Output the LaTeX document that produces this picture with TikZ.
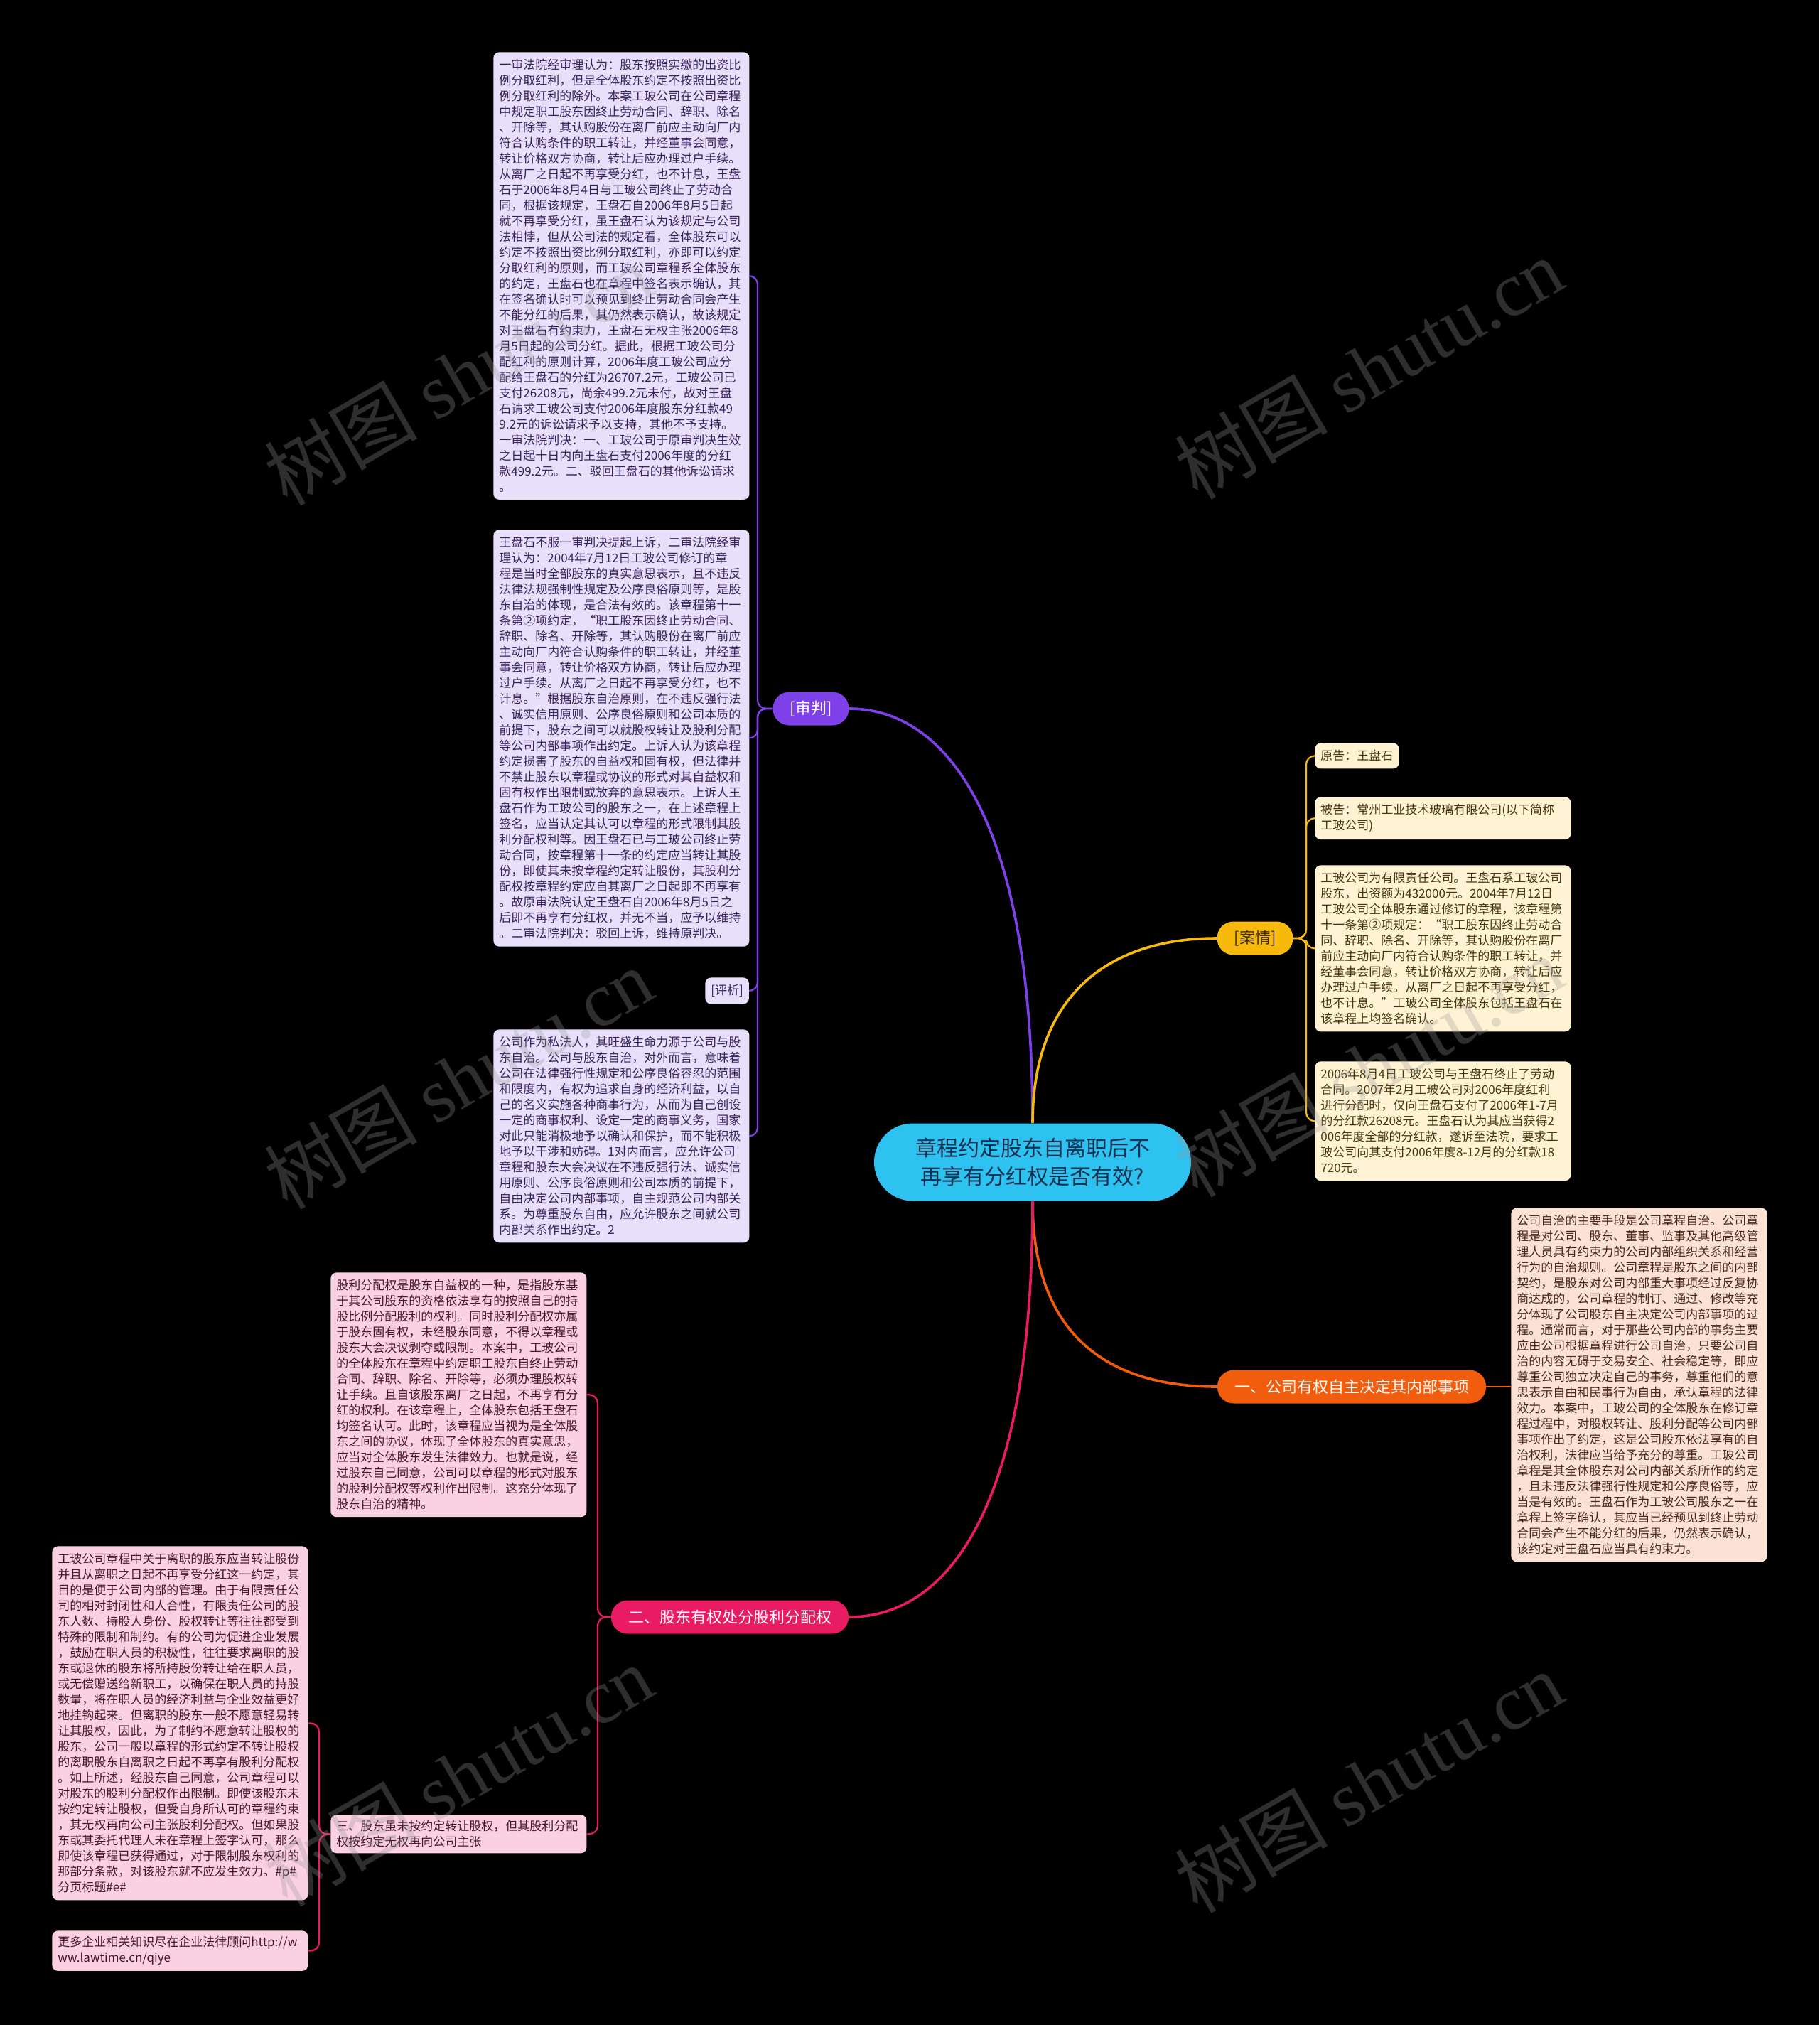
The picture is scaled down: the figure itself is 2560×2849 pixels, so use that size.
\documentclass[tikz,border=0pt]{standalone}
\usepackage{fontspec}
\setmainfont{Noto Sans CJK SC}
\newfontfamily\wmserif{Liberation Serif}
\definecolor{lavfill}{HTML}{E8DFFA}
\definecolor{lavtext}{HTML}{35245C}
\definecolor{crmfill}{HTML}{FFF3D4}
\definecolor{crmtext}{HTML}{45360F}
\definecolor{pchfill}{HTML}{FCE1D5}
\definecolor{pchtext}{HTML}{48281A}
\definecolor{pnkfill}{HTML}{FAD0E2}
\definecolor{pnktext}{HTML}{45172C}
\definecolor{purp}{HTML}{7E40E8}
\definecolor{yell}{HTML}{F6B90C}
\definecolor{yelltext}{HTML}{3A2A00}
\definecolor{orng}{HTML}{F25C0D}
\definecolor{pnkb}{HTML}{E81B63}
\definecolor{cyanc}{HTML}{2EC2F1}
\definecolor{cyantext}{HTML}{14304E}
\definecolor{wmgray}{HTML}{9A9A9A}
\begin{document}
\begin{tikzpicture}[x=0.5pt,y=-0.5pt,
  blk/.style={rounded corners=4pt, inner xsep=4pt, inner ysep=5pt, text width=172pt, align=left, font=\fontsize{8.5pt}{11pt}\selectfont, anchor=north west},
  lav/.style={blk, fill=lavfill, text=lavtext},
  crm/.style={blk, fill=crmfill, text=crmtext},
  pch/.style={blk, fill=pchfill, text=pchtext},
  pnk/.style={blk, fill=pnkfill, text=pnktext},
  tagbox/.style={rounded corners=4pt, inner xsep=4pt, inner ysep=5pt, font=\fontsize{8.5pt}{11pt}\selectfont, anchor=north west},
  branch/.style={rounded corners=11.5pt, minimum height=23.5pt, inner xsep=12pt, inner ysep=3pt, font=\fontsize{11pt}{13pt}\selectfont},
  link/.style={line width=1.8pt},
  brk/.style={line width=1.1pt, rounded corners=6pt},
  wm/.style={text=wmgray, text opacity=0.3, font=\fontsize{54pt}{60pt}\selectfont, rotate=30}
]
\useasboundingbox (0,0) rectangle (2560,2849);
\fill[black] (0,0) rectangle (2560,2849);

% root
\node[fill=cyanc, text=cyantext, rounded corners=27pt, minimum width=223pt, minimum height=54.5pt, align=center, font=\fontsize{15pt}{20pt}\selectfont] (root) at (1453,1635) {章程约定股东自离职后不\\再享有分红权是否有效?};

% branches
\node[branch, fill=purp, text=white] (shenpan) at (1141,997) {[审判]};
\node[branch, fill=yell, text=yelltext] (anqing) at (1766,1320) {[案情]};
\node[branch, fill=orng, text=white] (yi) at (1902,1951) {一、公司有权自主决定其内部事项};
\node[branch, fill=pnkb, text=white] (er) at (1027,2275) {二、股东有权处分股利分配权};

% shenpan children
\node[lav] (b1) at (694,73) {一审法院经审理认为：股东按照实缴的出资比\\例分取红利，但是全体股东约定不按照出资比\\例分取红利的除外。本案工玻公司在公司章程\\中规定职工股东因终止劳动合同、辞职、除名\\、开除等，其认购股份在离厂前应主动向厂内\\符合认购条件的职工转让，并经董事会同意，\\转让价格双方协商，转让后应办理过户手续。\\从离厂之日起不再享受分红，也不计息，王盘\\石于2006年8月4日与工玻公司终止了劳动合\\同，根据该规定，王盘石自2006年8月5日起\\就不再享受分红，虽王盘石认为该规定与公司\\法相悖，但从公司法的规定看，全体股东可以\\约定不按照出资比例分取红利，亦即可以约定\\分取红利的原则，而工玻公司章程系全体股东\\的约定，王盘石也在章程中签名表示确认，其\\在签名确认时可以预见到终止劳动合同会产生\\不能分红的后果，其仍然表示确认，故该规定\\对王盘石有约束力，王盘石无权主张2006年8\\月5日起的公司分红。据此，根据工玻公司分\\配红利的原则计算，2006年度工玻公司应分\\配给王盘石的分红为26707.2元，工玻公司已\\支付26208元，尚余499.2元未付，故对王盘\\石请求工玻公司支付2006年度股东分红款49\\9.2元的诉讼请求予以支持，其他不予支持。\\一审法院判决：一、工玻公司于原审判决生效\\之日起十日内向王盘石支付2006年度的分红\\款499.2元。二、驳回王盘石的其他诉讼请求\\。};
\node[lav] (b2) at (694,745) {王盘石不服一审判决提起上诉，二审法院经审\\理认为：2004年7月12日工玻公司修订的章\\程是当时全部股东的真实意思表示，且不违反\\法律法规强制性规定及公序良俗原则等，是股\\东自治的体现，是合法有效的。该章程第十一\\条第②项约定，“职工股东因终止劳动合同、\\辞职、除名、开除等，其认购股份在离厂前应\\主动向厂内符合认购条件的职工转让，并经董\\事会同意，转让价格双方协商，转让后应办理\\过户手续。从离厂之日起不再享受分红，也不\\计息。”根据股东自治原则，在不违反强行法\\、诚实信用原则、公序良俗原则和公司本质的\\前提下，股东之间可以就股权转让及股利分配\\等公司内部事项作出约定。上诉人认为该章程\\约定损害了股东的自益权和固有权，但法律并\\不禁止股东以章程或协议的形式对其自益权和\\固有权作出限制或放弃的意思表示。上诉人王\\盘石作为工玻公司的股东之一，在上述章程上\\签名，应当认定其认可以章程的形式限制其股\\利分配权利等。因王盘石已与工玻公司终止劳\\动合同，按章程第十一条的约定应当转让其股\\份，即使其未按章程约定转让股份，其股利分\\配权按章程约定应自其离厂之日起即不再享有\\。故原审法院认定王盘石自2006年8月5日之\\后即不再享有分红权，并无不当，应予以维持\\。二审法院判决：驳回上诉，维持原判决。};
\node[tagbox, fill=lavfill, text=lavtext] (px) at (992,1375) {[评析]};
\node[lav] (b3) at (694,1448) {公司作为私法人，其旺盛生命力源于公司与股\\东自治。公司与股东自治，对外而言，意味着\\公司在法律强行性规定和公序良俗容忍的范围\\和限度内，有权为追求自身的经济利益，以自\\己的名义实施各种商事行为，从而为自己创设\\一定的商事权利、设定一定的商事义务，国家\\对此只能消极地予以确认和保护，而不能积极\\地予以干涉和妨碍。1对内而言，应允许公司\\章程和股东大会决议在不违反强行法、诚实信\\用原则、公序良俗原则和公司本质的前提下，\\自由决定公司内部事项，自主规范公司内部关\\系。为尊重股东自由，应允许股东之间就公司\\内部关系作出约定。2};

% anqing children
\node[tagbox, fill=crmfill, text=crmtext] (yg) at (1850,1045) {原告：王盘石};
\node[crm] (bg) at (1850,1121) {被告：常州工业技术玻璃有限公司(以下简称\\工玻公司)};
\node[crm] (aq1) at (1850,1217) {工玻公司为有限责任公司。王盘石系工玻公司\\股东，出资额为432000元。2004年7月12日\\工玻公司全体股东通过修订的章程，该章程第\\十一条第②项规定：“职工股东因终止劳动合\\同、辞职、除名、开除等，其认购股份在离厂\\前应主动向厂内符合认购条件的职工转让，并\\经董事会同意，转让价格双方协商，转让后应\\办理过户手续。从离厂之日起不再享受分红，\\也不计息。”工玻公司全体股东包括王盘石在\\该章程上均签名确认。};
\node[crm] (aq2) at (1850,1493) {2006年8月4日工玻公司与王盘石终止了劳动\\合同。2007年2月工玻公司对2006年度红利\\进行分配时，仅向王盘石支付了2006年1-7月\\的分红款26208元。王盘石认为其应当获得2\\006年度全部的分红款，遂诉至法院，要求工\\玻公司向其支付2006年度8-12月的分红款18\\720元。};

% yi child
\node[pch] (yb) at (2126,1699) {公司自治的主要手段是公司章程自治。公司章\\程是对公司、股东、董事、监事及其他高级管\\理人员具有约束力的公司内部组织关系和经营\\行为的自治规则。公司章程是股东之间的内部\\契约，是股东对公司内部重大事项经过反复协\\商达成的，公司章程的制订、通过、修改等充\\分体现了公司股东自主决定公司内部事项的过\\程。通常而言，对于那些公司内部的事务主要\\应由公司根据章程进行公司自治，只要公司自\\治的内容无碍于交易安全、社会稳定等，即应\\尊重公司独立决定自己的事务，尊重他们的意\\思表示自由和民事行为自由，承认章程的法律\\效力。本案中，工玻公司的全体股东在修订章\\程过程中，对股权转让、股利分配等公司内部\\事项作出了约定，这是公司股东依法享有的自\\治权利，法律应当给予充分的尊重。工玻公司\\章程是其全体股东对公司内部关系所作的约定\\，且未违反法律强行性规定和公序良俗等，应\\当是有效的。王盘石作为工玻公司股东之一在\\章程上签字确认，其应当已经预见到终止劳动\\合同会产生不能分红的后果，仍然表示确认，\\该约定对王盘石应当具有约束力。};

% er children
\node[pnk] (ea) at (465,1790) {股利分配权是股东自益权的一种，是指股东基\\于其公司股东的资格依法享有的按照自己的持\\股比例分配股利的权利。同时股利分配权亦属\\于股东固有权，未经股东同意，不得以章程或\\股东大会决议剥夺或限制。本案中，工玻公司\\的全体股东在章程中约定职工股东自终止劳动\\合同、辞职、除名、开除等，必须办理股权转\\让手续。且自该股东离厂之日起，不再享有分\\红的权利。在该章程上，全体股东包括王盘石\\均签名认可。此时，该章程应当视为是全体股\\东之间的协议，体现了全体股东的真实意思，\\应当对全体股东发生法律效力。也就是说，经\\过股东自己同意，公司可以章程的形式对股东\\的股利分配权等权利作出限制。这充分体现了\\股东自治的精神。};
\node[pnk, inner ysep=4pt] (san) at (465,2553) {三、股东虽未按约定转让股权，但其股利分配\\权按约定无权再向公司主张};
\node[pnk] (eb) at (73,2175) {工玻公司章程中关于离职的股东应当转让股份\\并且从离职之日起不再享受分红这一约定，其\\目的是便于公司内部的管理。由于有限责任公\\司的相对封闭性和人合性，有限责任公司的股\\东人数、持股人身份、股权转让等往往都受到\\特殊的限制和制约。有的公司为促进企业发展\\，鼓励在职人员的积极性，往往要求离职的股\\东或退休的股东将所持股份转让给在职人员，\\或无偿赠送给新职工，以确保在职人员的持股\\数量，将在职人员的经济利益与企业效益更好\\地挂钩起来。但离职的股东一般不愿意轻易转\\让其股权，因此，为了制约不愿意转让股权的\\股东，公司一般以章程的形式约定不转让股权\\的离职股东自离职之日起不再享有股利分配权\\。如上所述，经股东自己同意，公司章程可以\\对股东的股利分配权作出限制。即使该股东未\\按约定转让股权，但受自身所认可的章程约束\\，其无权再向公司主张股利分配权。但如果股\\东或其委托代理人未在章程上签字认可，那么\\即使该章程已获得通过，对于限制股东权利的\\那部分条款，对该股东就不应发生效力。\#p\#\\分页标题\#e\#};
\node[pnk, inner ysep=4pt] (gd) at (73,2716) {更多企业相关知识尽在企业法律顾问http://w\\ww.lawtime.cn/qiye};

% main links
\draw[link, purp] (root.north) .. controls (1453,1150) and (1330,997) .. (shenpan.east);
\draw[link, yell] (root.north) .. controls (1453,1400) and (1560,1320) .. (anqing.west);
\draw[link, orng] (root.south) .. controls (1453,1880) and (1560,1951) .. (yi.west);
\draw[link, pnkb] (root.south) .. controls (1453,2130) and (1330,2275) .. (er.east);

% brackets
\draw[brk, purp] (shenpan.west) -- (1066,997) |- (b1.east);
\draw[brk, purp] (shenpan.west) -- (1066,997) |- (b2.east);
\draw[brk, purp] (shenpan.west) -- (1066,997) |- (px.east);
\draw[brk, purp] (shenpan.west) -- (1066,997) |- (b3.east);
\draw[brk, yell] (anqing.east) -- (1838,1320) |- (yg.west);
\draw[brk, yell] (anqing.east) -- (1838,1320) |- (bg.west);
\draw[brk, yell] (anqing.east) -- (1838,1320) |- (aq1.west);
\draw[brk, yell] (anqing.east) -- (1838,1320) |- (aq2.west);
\draw[link, orng, line width=1.1pt] (yi.east) -- (yb.west |- yi.east);
\draw[brk, pnkb] (er.west) -- (841,2275) |- (ea.east);
\draw[brk, pnkb] (er.west) -- (841,2275) |- (san.east);
\draw[brk, pnkb] (san.west) -- (449,2581) |- (eb.east);
\draw[brk, pnkb] (san.west) -- (449,2581) |- (gd.east);

% watermarks
\node[wm] (wm1) at (645,527) {树图 {\wmserif shutu.cn}};
\node[wm] (wm2) at (1926,518) {树图 {\wmserif shutu.cn}};
\node[wm] (wm3) at (645,1517) {树图 {\wmserif shutu.cn}};
\node[wm] (wm4) at (1926,1500) {树图 {\wmserif shutu.cn}};
\node[wm] (wm5) at (645,2498) {树图 {\wmserif shutu.cn}};
\node[wm] (wm6) at (1926,2507) {树图 {\wmserif shutu.cn}};
\end{tikzpicture}
\end{document}
